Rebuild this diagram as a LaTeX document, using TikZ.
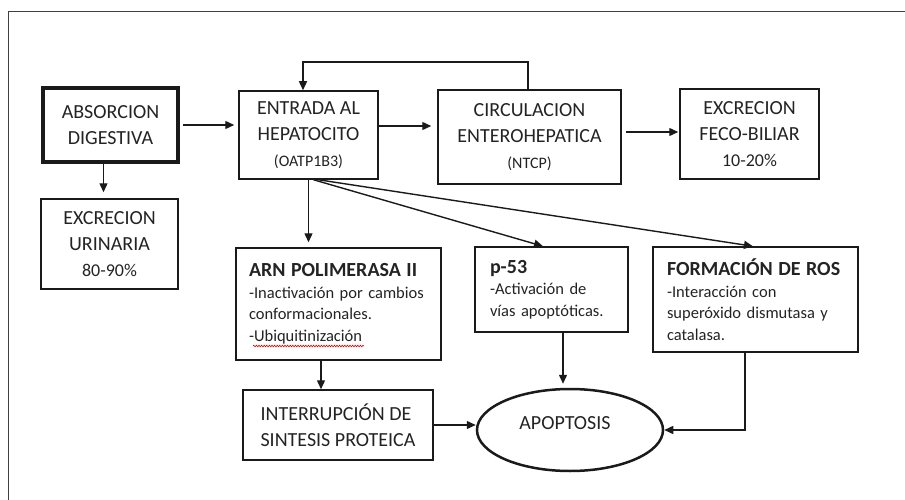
\documentclass[tikz,border=0pt]{standalone}
\usepackage{fontspec}
\setmainfont{Carlito}
\usetikzlibrary{arrows.meta,shapes.geometric,calc,decorations.pathmorphing}
\definecolor{txt}{HTML}{232323}
\definecolor{ln}{HTML}{1A1A1A}
\newcommand\fsmain{\fontsize{20}{26}\selectfont}
\newcommand\fssmall{\fontsize{16}{20}\selectfont}
\newcommand\fspct{\fontsize{18}{22}\selectfont}
\newcommand\fsbody{\fontsize{16.5}{21.5}\selectfont}
\newcommand\hd[1]{{\fontsize{20}{22}\selectfont\bfseries #1}}
\begin{document}
\begin{tikzpicture}[x=1pt,y=-1pt,
  box/.style={draw=ln, line width=1.5pt, text=txt, inner sep=0pt, align=center, font=\fsmain},
  tbox/.style={draw=ln, line width=1.5pt, text=txt, inner ysep=0pt, align=left, font=\fsbody},
  arr/.style={draw=ln, line width=1.4pt, -{Triangle[length=9pt,width=8pt]}}]
\useasboundingbox (0,0) rectangle (905,500);
\draw[line width=1pt, black!75] (905,12) -- (8,12) -- (8,500);

\node[box, line width=4.5pt, minimum width=135, minimum height=74] (abs) at (110.5,125) {ABSORCION\\DIGESTIVA};
\node[box, minimum width=137, minimum height=90] (uri) at (109.5,244) {EXCRECION\\URINARIA\\{\fspct 80-90\%}};
\node[box, minimum width=139, minimum height=88] (ent) at (308.5,135) {ENTRADA AL\\HEPATOCITO\\{\fssmall (OATP1B3)}};
\node[box, minimum width=183, minimum height=94] (circ) at (529.5,137) {CIRCULACION\\ENTEROHEPATICA\\{\fssmall (NTCP)}};
\node[box, minimum width=139, minimum height=90] (feco) at (749.5,134) {EXCRECION\\FECO-BILIAR\\{\fspct 10-20\%}};

\node[tbox, inner xsep=13pt, text width=179pt, minimum height=112] (arn) at (338.5,304)
  {\hd{ARN POLIMERASA II}\\-Inactivación por cambios\\conformacionales.\\-Ubiquitinización};
\node[tbox, inner xsep=15pt, text width=123pt, minimum height=85] (p53) at (551.5,289.5)
  {\hd{p-53}\\-Activación de\\vías apoptóticas.};
\node[tbox, inner xsep=14pt, text width=177pt, minimum height=105] (ros) at (755.5,299.5)
  {\hd{FORMACIÓN DE ROS}\\-Interacción con\\superóxido dismutasa y\\catalasa.};
\node[box, align=left, minimum width=190, minimum height=70] (intr) at (338,425)
  {INTERRUPCIÓN DE\\SINTESIS PROTEICA};
\node[draw=ln, ellipse, line width=2.5pt, minimum width=186, minimum height=82, inner sep=0pt] (apop) at (570,430) {};
\node[text=txt, font=\fsmain, inner sep=0pt] (apoptxt) at (565,423.5) {APOPTOSIS};

\draw[red!85!black, line width=0.6pt, decorate, decoration={snake, amplitude=0.8pt, segment length=2.6pt}] (253,346) -- (364,346);

\draw[arr, shorten <=3pt, shorten >=4pt] (abs.east) -- (abs.east -| ent.west);
\draw[arr, shorten >=6pt] ([xshift=-7pt]abs.south) -- ([xshift=-7pt]abs.south |- uri.north);
\draw[arr, shorten >=6pt] ([yshift=9pt]ent.east) -- ([yshift=9pt]ent.east -| circ.west);
\draw[arr, shorten <=4pt, shorten >=1pt] ([yshift=5pt]circ.east) -- ([yshift=5pt]circ.east -| feco.west);
\coordinate (fbtop) at (303,62);
\draw[arr] ([xshift=-1.5pt]circ.north) |- (fbtop) -- (fbtop |- ent.north);
\draw[arr, shorten >=5pt] (ent.south) -- (ent.south |- arn.north);
\draw[arr] ([xshift=5pt]ent.south) -- ([xshift=-8.5pt]p53.north);
\draw[arr] ([xshift=10pt]ent.south) -- ([xshift=-2.5pt]ros.north);
\draw[arr] ([xshift=-17.5pt]arn.south) -- ([xshift=-17.5pt]arn.south |- intr.north);
\draw[arr] (intr.east) -- (intr.east -| apop.west);
\draw[arr, shorten >=4pt] ([xshift=11.5pt]p53.south) -- ([xshift=11.5pt]p53.south |- apop.north);
\draw[arr] ([xshift=-10.5pt]ros.south) |- (apop.east);
\end{tikzpicture}
\end{document}
